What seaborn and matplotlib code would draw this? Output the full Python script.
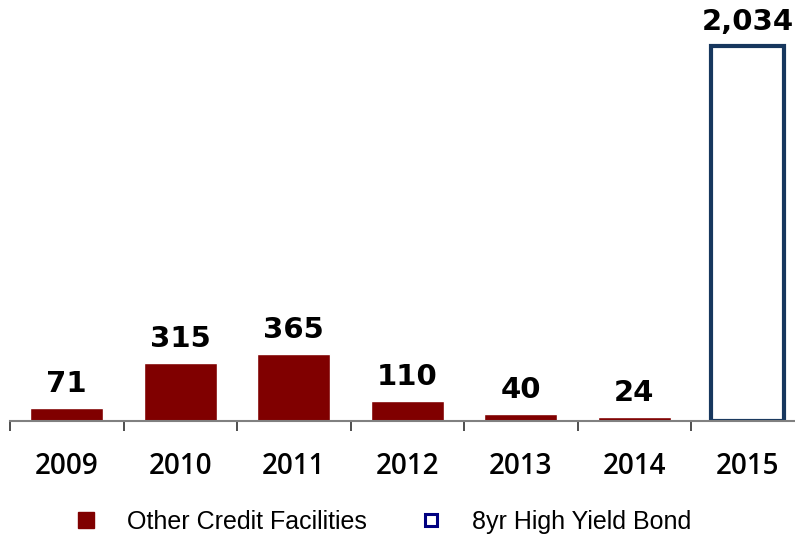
import pandas as pd
import seaborn as sns
import matplotlib.pyplot as plt
from matplotlib.lines import Line2D


years = ['2009', '2010', '2011', '2012', '2013', '2014', '2015']
values = [71, 315, 365, 110, 40, 24, 2034]
kinds = ['Other Credit Facilities'] * 6 + ['8yr High Yield Bond']
value_labels = ['71', '315', '365', '110', '40', '24', '2,034']

red = '#800000'
navy = '#17375E'

df = pd.DataFrame({'year': years, 'value': values, 'kind': kinds})

sns.set_style('white')
plt.rcParams['font.family'] = ['DejaVu Sans']

fig = plt.figure(figsize=(7.95, 5.40), dpi=100)
ax = fig.add_axes([10 / 795, 119 / 540, 794.5 / 795, 421 / 540])

sns.barplot(data=df, x='year', y='value', hue='kind', dodge=False,
            palette={'Other Credit Facilities': red, '8yr High Yield Bond': 'white'},
            width=0.64, saturation=1, legend=False, ax=ax)

# bond bar is only an outline
for bar in ax.patches:
    if bar.get_height() > 1000:
        bar.set_facecolor('none')
        bar.set_edgecolor(navy)
        bar.set_linewidth(3)

for i, (v, lab) in enumerate(zip(values, value_labels)):
    ax.annotate(lab, (i, v), xytext=(0, 7), textcoords='offset points',
                ha='center', va='bottom', fontsize=21, fontweight='bold',
                family='DejaVu Sans', color='#000000')

ax.set_xlim(-0.5, 6.5)
ax.set_ylim(0, 2283)
ax.set_xlabel('')
ax.set_ylabel('')
ax.set_yticks([])
sns.despine(ax=ax, left=True, right=True, top=True)
ax.spines['bottom'].set_color('#808080')
ax.spines['bottom'].set_linewidth(1.5)

ax.set_xticks(range(len(years)))
ax.set_xticklabels(years, fontsize=20, family='Open Sans', fontweight='semibold', color='black')
ax.set_xticks([x - 0.5 for x in range(len(years) + 1)], minor=True)
ax.tick_params(axis='x', which='major', length=0, pad=22)
ax.tick_params(axis='x', which='minor', bottom=True, length=7, width=1.2,
               color='#303030', direction='out')

handles = [
    Line2D([], [], marker='s', linestyle='none', markersize=11,
           markerfacecolor=red, markeredgecolor=red),
    Line2D([], [], marker='s', linestyle='none', markersize=9,
           markerfacecolor='white', markeredgecolor='#000080', markeredgewidth=2.2),
]
leg = fig.legend(handles, ['Other Credit Facilities', '8yr High Yield Bond'],
                 loc='center', bbox_to_anchor=(0.481, 0.033), ncol=2, frameon=False,
                 prop={'family': 'Liberation Sans', 'size': 18},
                 handlelength=1.0, handletextpad=1.14, columnspacing=2.06)
for t in leg.get_texts():
    t.set_color('black')

fig.savefig('out.png', dpi=100)
